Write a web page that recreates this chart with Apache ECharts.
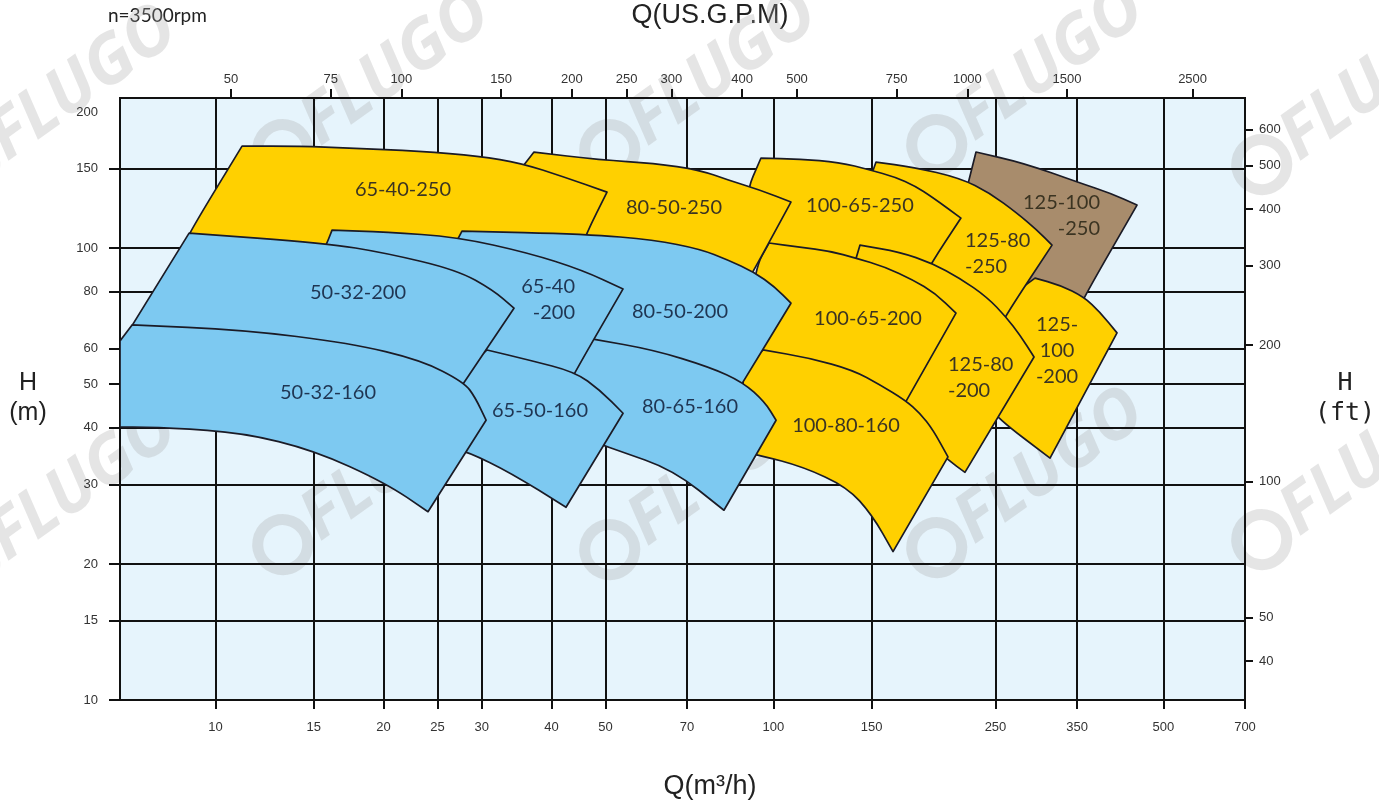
<!DOCTYPE html>
<html><head><meta charset="utf-8">
<script src="https://cdn.jsdelivr.net/npm/echarts@6/dist/echarts.min.js"></script>
<style>html,body{margin:0;padding:0;background:#fff}#c{width:1379px;height:807px}</style>
</head><body><div id="c"></div>
<script>
// ---- axis ticks ----
const qTicks = [10,15,20,25,30,40,50,70,100,150,250,350,500,700];
const gpmTicks = [50,75,100,150,200,250,300,400,500,750,1000,1500,2500];
const hTicks = [10,15,20,30,40,50,60,80,100,150,200];
const hGridTicks = [10,15,20,30,40,50,60,80,100,150];
const ftTicks = [40,50,100,200,300,400,500,600];
const Q_MIN = 6.745, Q_MAX = 700;
const H_MIN = 10, H_MAX = 214.8;
const GPM_MIN = 31.83, GPM_MAX = 3094;
const M_TO_FT = 3.28084;

// ---- pump coverage outlines [Q m3/h, H m] ----
const p65_40_250 = [[11.16,168.1],[14.18,168.1],[17.43,166.4],[23.26,163.9],[29.68,159.8],[35.29,154.2],[42.14,143.6],[50.32,133.0],[46.15,107.4],[44.64,95.0],[9.38,93.1],[8.82,101.5],[8.97,107.9]];
const p50_32_200 = [[8.97,107.9],[15.72,102.6],[20.21,97.5],[27.10,89.4],[31.44,80.7],[34.28,73.6],[27.32,48.5],[23.36,53.2],[17.43,58.0],[11.21,61.9],[6.745,61.0]];
const p50_32_160 = [[7.09,67.6],[11.21,65.9],[17.43,61.6],[23.36,56.5],[27.89,50.5],[29.19,46.8],[30.55,41.6],[24.04,26.1],[20.21,30.2],[15.02,35.7],[11.21,39.0],[8.33,40.0],[6.745,40.2],[6.745,62.3]];
const p65_40_200 = [[16.18,109.6],[20.21,108.5],[27.10,105.8],[36.47,97.5],[45.39,89.4],[53.77,81.2],[44.10,53.2],[42.31,48.0],[28.59,54.3],[15.27,93.1],[15.85,102.6]];
const p80_50_200 = [[27.66,109.0],[46.15,107.4],[61.09,104.2],[73.86,99.5],[82.89,94.1],[92.28,88.5],[100.65,82.0],[107.5,75.5],[88.18,50.5],[85.31,47.3],[48.89,56.5],[38.16,76.7],[26.54,99.0]];
const p65_50_160 = [[30.67,59.5],[36.47,56.5],[44.10,53.2],[48.89,48.5],[53.77,43.1],[42.49,26.7],[33.86,31.8],[28.36,35.4],[25.26,36.7],[27.78,53.2]];
const p80_65_160 = [[47.50,62.9],[61.09,59.5],[76.97,54.5],[88.18,50.5],[96.58,45.6],[101.1,41.6],[81.53,26.3],[66.07,32.3],[52.44,35.7],[49.30,36.7],[46.53,37.6],[42.84,49.8],[44.28,58.0]];
const p80_50_250 = [[37.23,163.1],[48.89,156.6],[61.09,154.2],[73.86,148.8],[82.89,141.4],[94.60,134.4],[107.5,126.4],[92.28,89.4],[88.91,82.8],[48.89,99.0],[45.02,106.9],[41.45,115.3],[35.14,148.8]];
const p100_65_250 = [[94.99,158.2],[111.6,157.4],[131.1,155.0],[149.0,148.8],[165.2,143.6],[179.4,137.1],[192.4,129.7],[216.8,116.5],[190.8,91.7],[181.6,80.7],[111.6,90.3],[91.52,96.5],[88.91,131.0]];
const p100_65_200 = [[98.19,102.6],[111.6,100.5],[126.3,98.5],[140.6,95.0],[158.5,90.8],[177.9,85.0],[194.8,79.5],[212.4,71.8],[172.1,45.4],[155.3,48.8],[138.9,52.6],[116.3,55.9],[95.79,58.3],[88.91,58.9],[92.68,90.3]];
const p100_80_160 = [[95.79,59.5],[116.3,57.1],[138.9,53.7],[155.3,49.8],[172.1,46.1],[183.1,43.1],[193.2,39.6],[205.5,34.5],[163.8,21.3],[150.2,25.7],[135.5,29.6],[113.0,32.8],[94.60,34.8],[87.09,35.4],[88.55,55.1]];
const p125_80_200 = [[142.9,101.5],[168.6,98.0],[192.4,92.6],[215.9,85.8],[241.4,77.9],[261.1,70.4],[276.6,64.2],[293.1,57.4],[220.4,31.9],[205.5,34.0],[186.9,37.6],[168.6,44.3],[158.5,65.9],[138.3,88.5]];
const p125_80_250 = [[152.7,155.0],[177.9,151.1],[215.9,142.9],[244.4,132.3],[273.2,119.5],[296.8,109.6],[315.7,101.5],[261.1,71.1],[254.7,66.5],[168.6,87.1],[149.0,104.2],[147.7,137.8]];
const p125_100_250 = [[230.7,163.1],[281.2,154.2],[354.3,139.3],[401.1,132.3],[448.3,124.5],[360.2,77.9],[354.3,73.6],[288.3,77.5],[254.7,104.2],[221.3,133.0]];
const p125_100_200 = [[294.3,85.8],[326.3,82.8],[360.2,77.9],[384.8,72.2],[412.8,64.9],[313.1,34.3],[251.6,42.1],[239.4,46.1],[260.0,76.7]];

// draw order: bottom first
const drawOrder = ['125-100-250','125-100-200','125-80-250','100-65-250','125-80-200','100-65-200','100-80-160','80-50-250','65-40-250','80-50-200','80-65-160','65-40-200','65-50-160','50-32-200','50-32-160'];
const outlineOf = {
  '65-40-250':p65_40_250,'50-32-200':p50_32_200,'50-32-160':p50_32_160,'65-40-200':p65_40_200,
  '80-50-200':p80_50_200,'65-50-160':p65_50_160,'80-65-160':p80_65_160,'80-50-250':p80_50_250,
  '100-65-250':p100_65_250,'100-65-200':p100_65_200,'100-80-160':p100_80_160,'125-80-200':p125_80_200,
  '125-80-250':p125_80_250,'125-100-250':p125_100_250,'125-100-200':p125_100_200
};
const bluePumps = ['50-32-200','50-32-160','65-40-200','65-50-160','80-50-200','80-65-160'];
const brownPumps = ['125-100-250'];

// ---- labels ----
const labelTexts = ['65-40-250','80-50-250','100-65-250','125-80\n-250','125-100\n-250','50-32-200','65-40\n-200','80-50-200','100-65-200','125-80\n-200','125-\n100\n-200','50-32-160','65-50-160','80-65-160','100-80-160'];
const labelPoints = [[21.68,134.4],[66.34,123.2],[142.9,123.9],[220.4,97.0],[384.8,118.3],[18.01,79.9],[44.10,77.1],[68.0,72.2],[147.7,70.0],[205.5,51.6],[322.3,59.2],[15.91,48.0],[38.16,43.8],[70.87,44.5],[134.9,40.4]];
const labelAlign = ['center','center','center','left','right','center','right','center','center','left','center','center','center','center','center'];
const labelIsBlue = [0,0,0,0,0,1,1,1,0,0,0,1,1,1,0];

const YELLOW = '#FFD000', BLUE = '#7DC9F1', BROWN = '#A88C6C';
function fillOf(n){ return bluePumps.includes(n) ? BLUE : (brownPumps.includes(n) ? BROWN : YELLOW); }

// smooth path through pixel points: gentle vertices rounded, sharp corners kept
function smoothPath(pts){
  const n = pts.length;
  const sharp = pts.map((p,i)=>{
    const a = pts[(i-1+n)%n], b = pts[(i+1)%n];
    const v1=[p[0]-a[0],p[1]-a[1]], v2=[b[0]-p[0],b[1]-p[1]];
    const ang = Math.abs(Math.atan2(v1[0]*v2[1]-v1[1]*v2[0], v1[0]*v2[0]+v1[1]*v2[1]));
    return ang > 0.6;
  });
  let s = sharp.indexOf(true); if (s < 0) s = 0;
  const mid=(p,q)=>[(p[0]+q[0])/2,(p[1]+q[1])/2];
  const f = v => v.toFixed(2);
  let d = 'M' + f(pts[s][0]) + ',' + f(pts[s][1]);
  for (let k=1;k<=n;k++){
    const i=(s+k)%n, p=pts[i];
    if (sharp[i] || k===n) { d += ' L' + f(p[0]) + ',' + f(p[1]); }
    else {
      const m1 = mid(pts[(i-1+n)%n], p), m2 = mid(p, pts[(i+1)%n]);
      d += ' L' + f(m1[0]) + ',' + f(m1[1]) + ' Q' + f(p[0]) + ',' + f(p[1]) + ' ' + f(m2[0]) + ',' + f(m2[1]);
    }
  }
  return d + ' Z';
}

const chart = echarts.init(document.getElementById('c'), null, {renderer:'canvas'});
const axisFont = {color:'#333', fontSize:13, fontFamily:'Liberation Sans, Arial, sans-serif'};
const fmt = v => String(Math.round(v));
const WM = 'rgba(170,170,170,0.30)';
function wm(x, y){
  return {type:'group', x:x, y:y, rotation:0.62, z:100, silent:true, children:[
    {type:'circle', shape:{cx:-20, cy:0, r:25}, style:{fill:'none', stroke:WM, lineWidth:11}},
    {type:'text', x:12, y:0, style:{text:'FLUGO', font:'italic bold 68px "Noto Sans"', fill:WM, verticalAlign:'middle', align:'left'}}
  ]};
}

const option = {
  animation:false,
  backgroundColor:'#ffffff',
  grid:{left:120, right:134, top:98, bottom:107, show:true, backgroundColor:'#E6F4FC', borderColor:'#111', borderWidth:2, containLabel:false, outerBoundsMode:'none'},
  xAxis:[
    {type:'log', logBase:10, position:'bottom', min:Q_MIN, max:Q_MAX,
     axisLine:{show:true, lineStyle:{color:'#111', width:2}},
     axisTick:{show:true, inside:false, length:9, customValues:qTicks, lineStyle:{color:'#111', width:2}},
     axisLabel:Object.assign({customValues:qTicks, margin:21, formatter:fmt}, axisFont),
     splitLine:{show:true, lineStyle:{color:'#111', width:2}},
     minorTick:{show:false}, minorSplitLine:{show:false}},
    {type:'log', logBase:10, position:'top', min:GPM_MIN, max:GPM_MAX,
     axisLine:{show:true, lineStyle:{color:'#111', width:2}},
     axisTick:{show:true, inside:false, length:9, customValues:gpmTicks, lineStyle:{color:'#111', width:2}},
     axisLabel:Object.assign({customValues:gpmTicks, margin:12, formatter:fmt}, axisFont),
     splitLine:{show:false}}
  ],
  yAxis:[
    {type:'log', logBase:10, position:'left', min:H_MIN, max:H_MAX,
     axisLine:{show:true, lineStyle:{color:'#111', width:2}},
     axisTick:{show:true, inside:false, length:11, customValues:hGridTicks, lineStyle:{color:'#111', width:2}},
     axisLabel:Object.assign({customValues:hTicks, margin:22, formatter:fmt}, axisFont),
     splitLine:{show:true, lineStyle:{color:'#111', width:2}}},
    {type:'log', logBase:10, position:'right', min:H_MIN*M_TO_FT, max:H_MAX*M_TO_FT,
     axisLine:{show:true, lineStyle:{color:'#111', width:2}},
     axisTick:{show:true, inside:false, length:8, customValues:ftTicks, lineStyle:{color:'#111', width:2}},
     axisLabel:Object.assign({customValues:ftTicks, margin:14, formatter:fmt}, axisFont),
     splitLine:{show:false}}
  ],
  series:[
    {type:'custom', coordinateSystem:'cartesian2d', xAxisIndex:0, yAxisIndex:0, silent:true, z:3, clip:true,
     data: drawOrder.map((n,i)=>[outlineOf[n][0][0], outlineOf[n][0][1], i]),
     encode:{x:0, y:1},
     renderItem:function(params, api){
       const name = drawOrder[api.value(2)];
       const pts = outlineOf[name].map(p=>api.coord(p));
       return {type:'path', shape:{pathData:smoothPath(pts)}, style:{fill:fillOf(name), stroke:'#1b1b26', lineWidth:1.7, lineJoin:'round'}};
     }},
    {type:'custom', coordinateSystem:'cartesian2d', xAxisIndex:0, yAxisIndex:0, silent:true, z:5,
     data: labelPoints.map((p,i)=>[p[0], p[1], i]),
     encode:{x:0, y:1},
     renderItem:function(params, api){
       const i = api.value(2);
       const c = api.coord([api.value(0), api.value(1)]);
       return {type:'text', x:c[0], y:c[1], style:{text:labelTexts[i], font:'20px Lato', fill: labelIsBlue[i] ? '#1f3552' : '#3b3422', align:labelAlign[i], verticalAlign:'middle', lineHeight:26}};
     }}
  ],
  graphic:[
    {type:'text', left:108, top:6, style:{text:'n=3500rpm', font:'19px Lato', fill:'#222'}},
    {type:'text', x:710, y:16, style:{text:'Q(US.G.P.M)', font:'27px "Liberation Sans"', fill:'#222', align:'center', verticalAlign:'middle'}},
    {type:'text', x:710, y:787, style:{text:'Q(m³/h)', font:'27px "Liberation Sans"', fill:'#222', align:'center', verticalAlign:'middle'}},
    {type:'text', x:28, y:398, style:{text:'H\n(m)', font:'25px "Liberation Sans"', fill:'#222', align:'center', verticalAlign:'middle', lineHeight:30}},
    {type:'text', x:1345, y:398, style:{text:'H\n(ft)', font:'25px "DejaVu Sans Mono"', fill:'#222', align:'center', verticalAlign:'middle', lineHeight:30}},
    wm(-14,153), wm(299,138), wm(626,138), wm(953,133), wm(1278,153),
    wm(-14,553), wm(299,533), wm(626,538), wm(953,536), wm(1278,528)
  ]
};
chart.setOption(option);
</script></body></html>
